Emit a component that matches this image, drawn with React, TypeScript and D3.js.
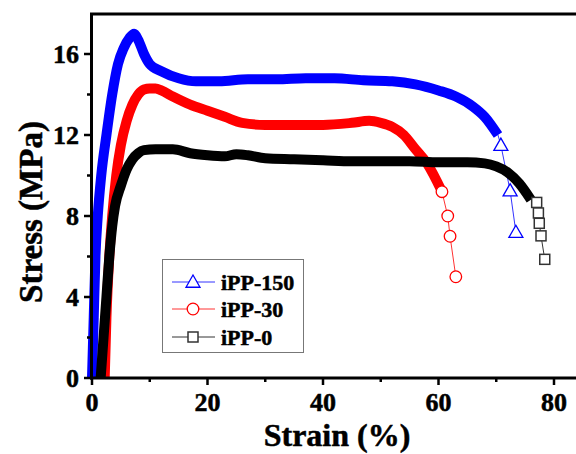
import React from "react";
import * as d3 from "d3";

const xTicks = [0, 20, 40, 60, 80];
const xMinor = [10, 30, 50, 70];
const yTicks = [0, 4, 8, 12, 16];
const yMinor = [2, 6, 10, 14];

const blueLine: [number, number][] = [
  [0, 0], [0.3, 3], [0.6, 6], [1.0, 8], [1.6, 10], [2.5, 12], [3.5, 14], [4.5, 15.5], [5.5, 16.3],
  [6.5, 16.8], [7.3, 17.0], [8, 16.7], [9, 16.0], [10, 15.5], [12, 15.15], [15, 14.8], [18, 14.65],
  [22, 14.65], [27, 14.75], [32, 14.75], [37, 14.8], [42, 14.8], [47, 14.7], [52, 14.65], [56, 14.5],
  [60, 14.2], [63, 13.9], [66, 13.4], [68, 12.9], [70.3, 12.0],
];
const blueTail: [number, number][] = [[70.8, 11.5], [72.4, 9.25], [73.4, 7.2]];

const redLine: [number, number][] = [
  [2.2, 0], [2.5, 3], [3, 6], [3.5, 8], [4.2, 10], [5, 11.5], [6, 12.7], [7, 13.5], [8, 14.0],
  [9, 14.25], [10, 14.3], [11, 14.3], [12, 14.2], [14, 13.9], [17, 13.5], [20, 13.2], [23, 12.9],
  [26, 12.6], [30, 12.5], [35, 12.5], [40, 12.5], [45, 12.6], [48, 12.7], [50, 12.6], [52, 12.4],
  [54, 12.0], [56, 11.3], [58, 10.6], [60.6, 9.2],
];
const redTail: [number, number][] = [[60.6, 9.2], [61.6, 8.0], [62.0, 7.0], [63.0, 5.0]];

const blackLine: [number, number][] = [
  [1.5, 0], [2, 2], [2.5, 4], [3, 6], [3.5, 7.5], [4, 8.5], [5, 9.5], [6, 10.3], [7, 10.8], [8, 11.1],
  [9, 11.25], [11, 11.3], [14, 11.3], [17, 11.1], [20, 11.0], [23, 10.95], [25, 11.05], [27, 11.0],
  [30, 10.85], [35, 10.8], [40, 10.75], [45, 10.7], [50, 10.7], [55, 10.7], [60, 10.65], [65, 10.65],
  [68, 10.6], [70, 10.45], [72, 10.15], [74, 9.6], [76, 8.8],
];
const blackTail: [number, number][] = [[77.0, 8.67], [77.3, 8.15], [77.45, 7.64], [77.75, 7.02], [78.4, 5.86]];

const legendNames = ["iPP-150", "iPP-30", "iPP-0"];
const legendColors = ["#0000ff", "#ff0000", "#000000"];
const legendMarkers = ["tri", "circle", "square"];

const W = 576, H = 454;
const x = d3.scaleLinear().domain([0, 80]).range([92, 554]);
const y = d3.scaleLinear().domain([0, 18]).range([378, 13.5]);
const line = d3.line<[number, number]>().x(d => x(d[0])).y(d => y(d[1])).curve(d3.curveMonotoneX);
const lineStraight = d3.line<[number, number]>().x(d => x(d[0])).y(d => y(d[1]));

const FONT = "'Liberation Serif', 'Times New Roman', serif";

function Marker({ kind, cx, cy, color }: { kind: string; cx: number; cy: number; color: string }) {
  if (kind === "tri") {
    const s = 7;
    return <path d={`M${cx},${cy - s} L${cx + s},${cy + s * 0.75} L${cx - s},${cy + s * 0.75} Z`} fill="white" stroke={color} strokeWidth={1.3} />;
  }
  if (kind === "circle") return <circle cx={cx} cy={cy} r={5.8} fill="white" stroke={color} strokeWidth={1.3} />;
  return <rect x={cx - 5} y={cy - 5} width={10} height={10} fill="white" stroke={color === "#000000" ? "#333" : color} strokeWidth={1.5} />;
}

export default function App() {
  const series = [
    { main: blueLine, tail: [blueLine[blueLine.length - 1], ...blueTail], pts: blueTail, color: "#0000ff", mk: "tri" },
    { main: redLine, tail: redTail, pts: redTail, color: "#ff0000", mk: "circle" },
    { main: blackLine, tail: [blackLine[blackLine.length - 1], ...blackTail], pts: blackTail, color: "#000000", mk: "square" },
  ];
  const heavy = { stroke: "black", strokeWidth: 0.5 };
  return (
    <svg width={W} height={H} style={{ position: "absolute", left: 0, top: 0 }} fontFamily={FONT}>
      <rect width={W} height={H} fill="white" />
      {series.map((s, i) => (
        <g key={i}>
          <path d={lineStraight(s.tail) || ""} fill="none" stroke={s.color} strokeWidth={1} opacity={0.8} />
          <path d={line(s.main) || ""} fill="none" stroke={s.color} strokeWidth={10} strokeLinejoin="round" strokeLinecap="butt" />
          {s.pts.map((p, j) => (
            <Marker key={j} kind={s.mk} cx={x(p[0])} cy={y(p[1])} color={s.color} />
          ))}
        </g>
      ))}
      <line x1={91.5} x2={91.5} y1={13} y2={379.5} stroke="black" strokeWidth={3} />
      <line x1={90} x2={W} y1={378} y2={378} stroke="black" strokeWidth={3} />
      <line x1={90} x2={W} y1={14} y2={14} stroke="black" strokeWidth={3} />
      {yTicks.map(t => (
        <g key={"y" + t}>
          <line x1={84} x2={91} y1={y(t)} y2={y(t)} stroke="black" strokeWidth={2.5} />
          <text x={79} y={y(t)} dy="0.35em" textAnchor="end" fontSize={26} fontWeight="bold" {...heavy}>{t}</text>
        </g>
      ))}
      {yMinor.map(t => (
        <line key={"ym" + t} x1={87} x2={91} y1={y(t)} y2={y(t)} stroke="black" strokeWidth={2.5} />
      ))}
      {xTicks.map(t => (
        <g key={"x" + t}>
          <line x1={x(t)} x2={x(t)} y1={378} y2={385} stroke="black" strokeWidth={2.5} />
          <text x={x(t)} y={411} textAnchor="middle" fontSize={26} fontWeight="bold" {...heavy}>{t}</text>
        </g>
      ))}
      {xMinor.map(t => (
        <line key={"xm" + t} x1={x(t)} x2={x(t)} y1={378} y2={382} stroke="black" strokeWidth={2.5} />
      ))}
      <text x={337} y={446} textAnchor="middle" fontSize={32} fontWeight="bold" {...heavy}>Strain (%)</text>
      <text transform="translate(42,212) rotate(-90)" textAnchor="middle" fontSize={33} fontWeight="bold" {...heavy}>Stress (MPa)</text>
      <rect x={162.5} y={259.5} width={141} height={93} fill="white" stroke="#777" strokeWidth={1} />
      {legendNames.map((n, i) => {
        const ly = [282, 309, 337][i];
        return (
          <g key={n}>
            <line x1={172} x2={215} y1={ly} y2={ly} stroke={legendColors[i]} strokeWidth={1} opacity={0.8} />
            <Marker kind={legendMarkers[i]} cx={193} cy={ly} color={legendColors[i]} />
            <text x={221} y={ly} dy="0.35em" fontSize={22} fontWeight="bold" {...heavy}>{n}</text>
          </g>
        );
      })}
    </svg>
  );
}
